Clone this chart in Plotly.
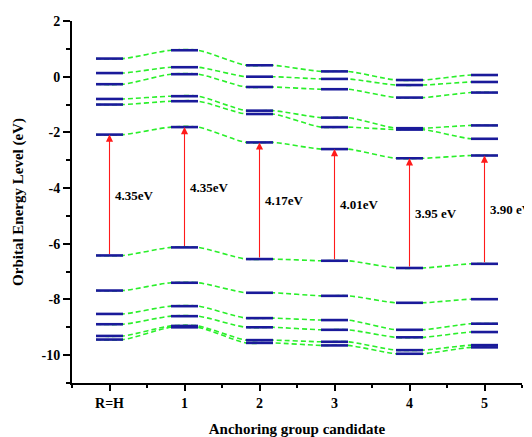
import plotly.graph_objects as go

categories = ["R=H", "1", "2", "3", "4", "5"]

# unoccupied orbitals (LUMO first, then higher), eV
unocc_RH = [-2.08, -1.00, -0.80, -0.27, 0.13, 0.65]
unocc_1 = [-1.81, -0.88, -0.70, 0.09, 0.34, 0.95]
unocc_2 = [-2.36, -1.34, -1.22, -0.37, 0.00, 0.41]
unocc_3 = [-2.60, -1.81, -1.47, -0.45, -0.08, 0.19]
unocc_4 = [-2.93, -1.90, -1.85, -0.75, -0.30, -0.12]
unocc_5 = [-2.83, -2.23, -1.75, -0.57, -0.19, 0.06]

# occupied orbitals (HOMO first, then deeper), eV
occ_RH = [-6.42, -7.68, -8.52, -8.89, -9.31, -9.44]
occ_1 = [-6.13, -7.40, -8.24, -8.60, -8.95, -9.00]
occ_2 = [-6.55, -7.76, -8.67, -9.00, -9.46, -9.56]
occ_3 = [-6.61, -7.87, -8.74, -9.09, -9.52, -9.65]
occ_4 = [-6.87, -8.12, -9.09, -9.36, -9.82, -9.95]
occ_5 = [-6.72, -7.99, -8.87, -9.17, -9.64, -9.72]

gap_labels = ["4.35eV", "4.35eV", "4.17eV", "4.01eV", "3.95 eV", "3.90 eV"]

y_ticks = [2, 0, -2, -4, -6, -8, -10]
y_tick_text = ["2", "0", "-2", "-4", "-6", "-8", "-10"]

unocc = [unocc_RH, unocc_1, unocc_2, unocc_3, unocc_4, unocc_5]
occ = [occ_RH, occ_1, occ_2, occ_3, occ_4, occ_5]
levels = [u + o for u, o in zip(unocc, occ)]

HALF = 0.18
FONT = "Liberation Serif"
BLUE = "#1a1a9a"
GREEN = "#2bef2b"

fig = go.Figure()

# green dashed correlation lines
n_levels = len(levels[0])
for k in range(n_levels):
    xs, ys = [], []
    for i, lv in enumerate(levels):
        xs += [i - HALF, i + HALF]
        ys += [lv[k], lv[k]]
    fig.add_trace(go.Scatter(x=xs, y=ys, mode="lines",
                             line=dict(color=GREEN, width=1.6, dash="5px,3px",
                                       shape="spline", smoothing=0.8),
                             hoverinfo="skip", showlegend=False))

# blue energy levels
bx, by = [], []
for i, lv in enumerate(levels):
    for v in lv:
        bx += [i - HALF, i + HALF, None]
        by += [v, v, None]
fig.add_trace(go.Scatter(x=bx, y=by, mode="lines",
                         line=dict(color=BLUE, width=2.6),
                         hoverinfo="skip", showlegend=False))

# gap arrows and labels
for i in range(len(categories)):
    lumo = unocc[i][0]
    homo = occ[i][0]
    fig.add_annotation(x=i, y=lumo, ax=i, ay=homo, xref="x", yref="y",
                       axref="x", ayref="y", showarrow=True, arrowhead=2,
                       arrowsize=1.3, arrowwidth=1.1, arrowcolor="#ff1a1a",
                       standoff=0, startstandoff=0, text="")
    fig.add_annotation(x=i + 0.04, y=(lumo + homo) / 2, xref="x", yref="y",
                       text=gap_labels[i], showarrow=False, xanchor="left",
                       yanchor="middle",
                       font=dict(family=FONT, size=13, color="black", weight="bold"))

# page body has an 8px margin, so the figure is sized/offset to compensate
fig.update_layout(
    width=524, height=429,
    margin=dict(l=64, r=10, t=13, b=54),
    paper_bgcolor="white", plot_bgcolor="white",
    showlegend=False,
    xaxis=dict(range=[-0.5, 5.5], tickvals=list(range(len(categories))),
               ticktext=categories, showgrid=False, zeroline=False,
               automargin=False,
               showline=True, linecolor="black", linewidth=2,
               ticks="outside", ticklen=6, tickwidth=2, tickcolor="black",
               minor=dict(tickvals=[i + 0.5 for i in range(-1, len(categories))],
                          ticks="outside", ticklen=3, tickwidth=2, tickcolor="black"),
               tickfont=dict(family=FONT, size=14, color="black", weight="bold"),
               title=dict(text="Anchoring group candidate", standoff=16,
                          font=dict(family=FONT, size=15, color="black", weight="bold"))),
    yaxis=dict(range=[-11, 2], tickvals=y_ticks, ticktext=y_tick_text,
               showgrid=False, zeroline=False,
               automargin=False,
               showline=True, linecolor="black", linewidth=2,
               ticks="outside", ticklen=7, tickwidth=2, tickcolor="black",
               minor=dict(tickvals=[v - 1 for v in y_ticks], ticks="outside",
                          ticklen=4, tickwidth=2, tickcolor="black"),
               tickfont=dict(family=FONT, size=14, color="black", weight="bold"),
               title=dict(text="Orbital Energy Level (eV)", standoff=14,
                          font=dict(family=FONT, size=15, color="black", weight="bold"))),
)

fig.write_html("out.html")
